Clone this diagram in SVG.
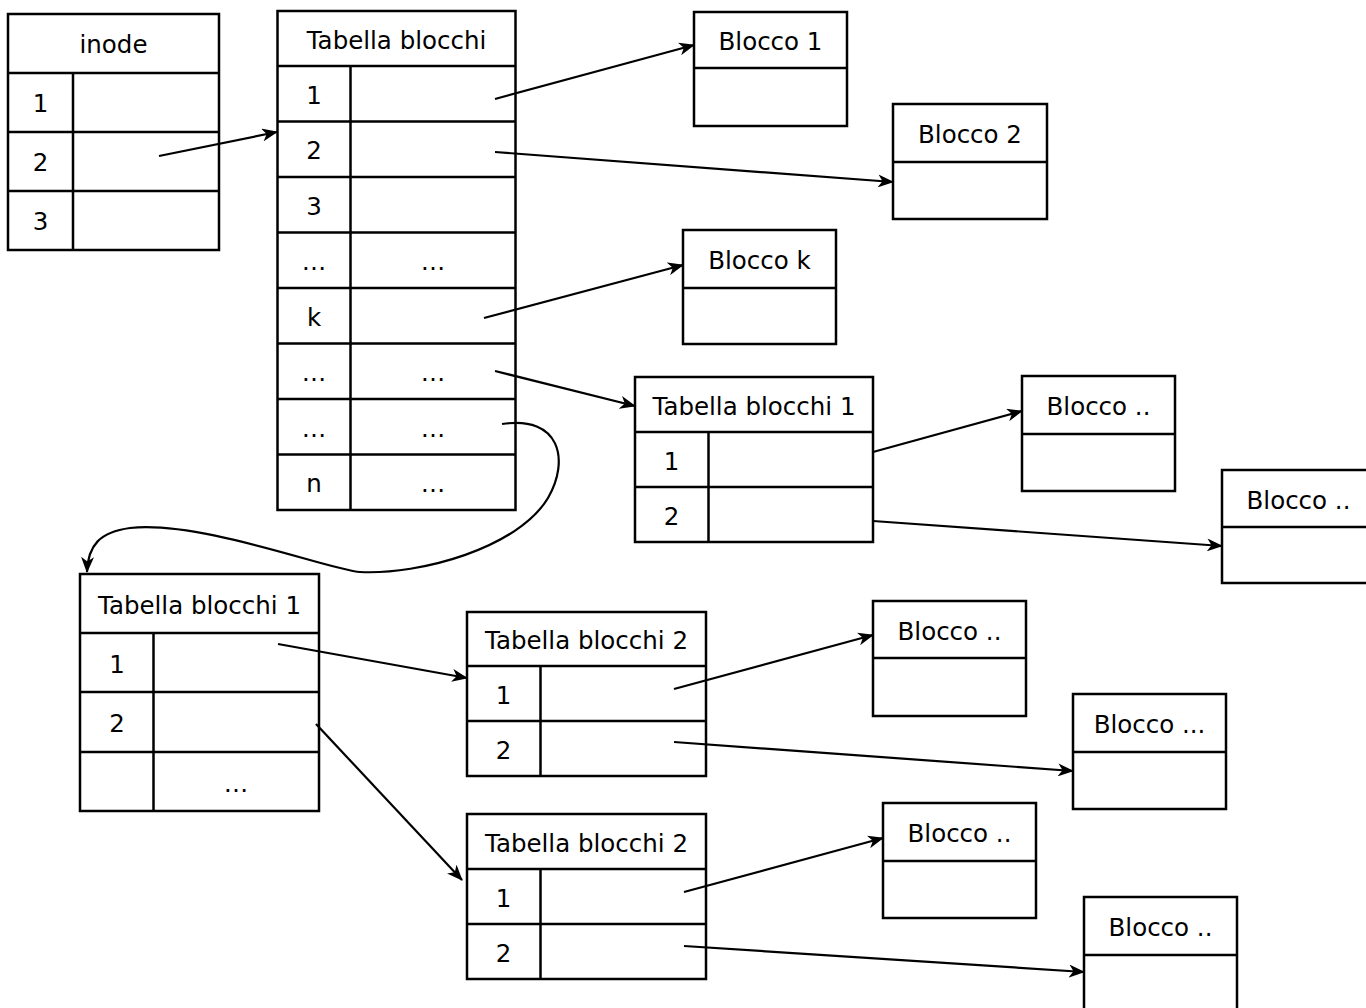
<svg xmlns="http://www.w3.org/2000/svg" width="1366" height="1008" viewBox="0 0 1366 1008">
<defs>
<style>
.b{fill:#fff;stroke:#000;stroke-width:2.5}
.l{fill:none;stroke:#000;stroke-width:2.5}
.t{font-family:"DejaVu Sans",Verdana,sans-serif;font-size:24.5px;fill:#000;text-anchor:middle}
.c{fill:none;stroke:#000;stroke-width:2.2;marker-end:url(#ah)}
</style>
<marker id="ah" viewBox="0 0 16 13" refX="15" refY="6.5" markerWidth="16" markerHeight="13" markerUnits="userSpaceOnUse" orient="auto">
<path d="M0,0 L16,6.5 L0,13 L4.5,6.5 Z" fill="#000"/>
</marker>
</defs>
<rect width="1366" height="1008" fill="#fff"/>

<g id="inode">
<rect class="b" x="8" y="14" width="211" height="236"/>
<path class="l" d="M8,73H219M8,132H219M8,191H219M73,73V250"/>
<text class="t" x="113.5" y="53">inode</text>
<text class="t" x="40.5" y="112">1</text>
<text class="t" x="40.5" y="171">2</text>
<text class="t" x="40.5" y="230">3</text>
</g>

<g id="tabella-blocchi">
<rect class="b" x="277.5" y="11" width="238" height="499"/>
<path class="l" d="M277.5,66H515.5M277.5,121.5H515.5M277.5,177H515.5M277.5,232.5H515.5M277.5,288H515.5M277.5,343.5H515.5M277.5,399H515.5M277.5,454.5H515.5M350.5,66V510"/>
<text class="t" x="396.5" y="48.5">Tabella blocchi</text>
<text class="t" x="314" y="103.5">1</text>
<text class="t" x="314" y="159">2</text>
<text class="t" x="314" y="214.5">3</text>
<text class="t" x="314" y="270">…</text>
<text class="t" x="433" y="270">…</text>
<text class="t" x="314" y="325.5">k</text>
<text class="t" x="314" y="381">…</text>
<text class="t" x="433" y="381">…</text>
<text class="t" x="314" y="436.5">…</text>
<text class="t" x="433" y="436.5">…</text>
<text class="t" x="314" y="492">n</text>
<text class="t" x="433" y="492">…</text>
</g>

<g id="blocco-1">
<rect class="b" x="694" y="12" width="153" height="114"/>
<path class="l" d="M694,68H847"/>
<text class="t" x="770.5" y="50">Blocco 1</text>
</g>

<g id="blocco-2">
<rect class="b" x="893" y="104" width="154" height="115"/>
<path class="l" d="M893,162H1047"/>
<text class="t" x="970" y="143">Blocco 2</text>
</g>

<g id="blocco-k">
<rect class="b" x="683" y="230" width="153" height="114"/>
<path class="l" d="M683,288H836"/>
<text class="t" x="759.5" y="269">Blocco k</text>
</g>

<g id="tabella-blocchi-1-a">
<rect class="b" x="635" y="377" width="238" height="165"/>
<path class="l" d="M635,432H873M635,487H873M708.5,432V542"/>
<text class="t" x="754" y="414.5">Tabella blocchi 1</text>
<text class="t" x="671.5" y="469.5">1</text>
<text class="t" x="671.5" y="524.5">2</text>
</g>

<g id="blocco-a">
<rect class="b" x="1022" y="376" width="153" height="115"/>
<path class="l" d="M1022,434H1175"/>
<text class="t" x="1098.5" y="415">Blocco ..</text>
</g>

<g id="blocco-b">
<rect class="b" x="1222" y="470" width="153" height="113"/>
<path class="l" d="M1222,527H1375"/>
<text class="t" x="1298.5" y="508.5">Blocco ..</text>
</g>

<g id="tabella-blocchi-1-b">
<rect class="b" x="80" y="574" width="239" height="237"/>
<path class="l" d="M80,633H319M80,692H319M80,752H319M153.5,633V811"/>
<text class="t" x="199.5" y="613.5">Tabella blocchi 1</text>
<text class="t" x="117" y="672.5">1</text>
<text class="t" x="117" y="732">2</text>
<text class="t" x="236" y="791.5">…</text>
</g>

<g id="tabella-blocchi-2-a">
<rect class="b" x="467" y="612" width="239" height="164"/>
<path class="l" d="M467,666H706M467,721H706M540.5,666V776"/>
<text class="t" x="586.5" y="649">Tabella blocchi 2</text>
<text class="t" x="503.5" y="703.5">1</text>
<text class="t" x="503.5" y="758.5">2</text>
</g>

<g id="tabella-blocchi-2-b">
<rect class="b" x="467" y="814" width="239" height="165"/>
<path class="l" d="M467,869H706M467,924H706M540.5,869V979"/>
<text class="t" x="586.5" y="851.5">Tabella blocchi 2</text>
<text class="t" x="503.5" y="906.5">1</text>
<text class="t" x="503.5" y="961.5">2</text>
</g>

<g id="blocco-c">
<rect class="b" x="873" y="601" width="153" height="115"/>
<path class="l" d="M873,658H1026"/>
<text class="t" x="949.5" y="639.5">Blocco ..</text>
</g>

<g id="blocco-d">
<rect class="b" x="1073" y="694" width="153" height="115"/>
<path class="l" d="M1073,752H1226"/>
<text class="t" x="1149.5" y="733">Blocco ...</text>
</g>

<g id="blocco-e">
<rect class="b" x="883" y="803" width="153" height="115"/>
<path class="l" d="M883,861H1036"/>
<text class="t" x="959.5" y="842">Blocco ..</text>
</g>

<g id="blocco-f">
<rect class="b" x="1084" y="897" width="153" height="120"/>
<path class="l" d="M1084,955H1237"/>
<text class="t" x="1160.5" y="936">Blocco ..</text>
</g>

<g id="connectors">
<path class="c" d="M159,156L277,132"/>
<path class="c" d="M495,99L694,45"/>
<path class="c" d="M495,152L893,182"/>
<path class="c" d="M484,318L683,265"/>
<path class="c" d="M495,371L635,406"/>
<path class="c" d="M502,424C560,415 570,460 548,498C518,548 420,575 360,572C330,570 200,520 130,528C100,532 88,545 87,572"/>
<path class="c" d="M873,452L1022,411"/>
<path class="c" d="M873,521L1222,546"/>
<path class="c" d="M278,644L467,678"/>
<path class="c" d="M316,724L462,880"/>
<path class="c" d="M674,689L873,635"/>
<path class="c" d="M674,742L1073,771"/>
<path class="c" d="M684,892L883,838"/>
<path class="c" d="M684,946L1084,972"/>
</g>
</svg>
